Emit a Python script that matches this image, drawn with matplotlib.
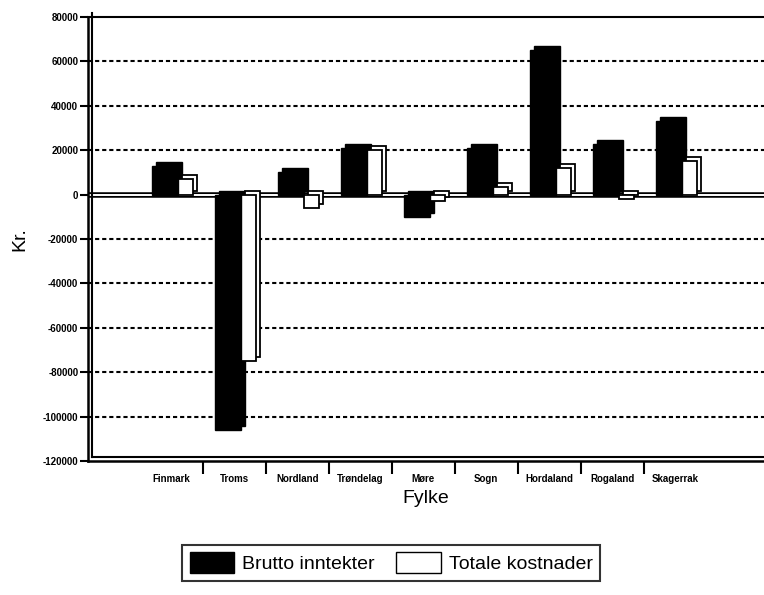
import numpy as np
import matplotlib
matplotlib.use("Agg")
import matplotlib.pyplot as plt
from matplotlib import transforms
from matplotlib.patches import Patch

categories = ["Finmark", "Troms", "Nordland", "Trøndelag", "Møre", "Sogn",
              "Hordaland", "Rogaland", "Skagerrak"]
brutto = [13000, -106000, 10000, 21000, -10000, 21000, 65000, 23000, 33000]
totale = [7000, -75000, -6000, 20000, -3000, 3500, 12000, -2000, 15000]
yticks = [80000, 60000, 40000, 20000, 0, -20000, -40000, -60000, -80000, -100000, -120000]

plt.rcParams['font.family'] = ['Liberation Sans', 'DejaVu Sans']

fig = plt.figure(figsize=(7.64, 5.95), dpi=100)
ax = fig.add_axes([88/764, 1-461/595, 1-88/764, (461-17)/595])

x = np.arange(len(categories))
wb, ww = 0.41, 0.24
xb = x - 0.30
xw = xb + wb

depth = transforms.offset_copy(ax.transData, fig=fig, x=4, y=4, units='dots')

# grid
for yv in yticks:
    if yv not in (0, 80000, -120000):
        ax.axhline(yv, color='black', lw=1.5, ls=(0, (2.0, 1.4)), zorder=1)
ax.axhline(0, color='black', lw=4.0, zorder=2)
ax.axhline(0, color='white', lw=1.4, zorder=2.1)

# 3D depth (behind)
ax.bar(xb, brutto, width=wb, align='edge', color='black', edgecolor='black',
       lw=1, transform=depth, zorder=3)
ax.bar(xw, totale, width=ww, align='edge', color='white', edgecolor='black',
       lw=1.3, transform=depth, zorder=3)
# front faces
ax.bar(xw, totale, width=ww, align='edge', color='white', edgecolor='black',
       lw=1.3, zorder=4)
ax.bar(xb, brutto, width=wb, align='edge', color='black', edgecolor='black',
       lw=1, zorder=5)

ax.set_xlim(-1.32, 9.41)
ax.set_ylim(-120000, 80000)

ax.set_yticks(yticks)
ax.set_yticklabels([str(v) for v in yticks], fontsize=7, fontweight='bold')
ax.tick_params(axis='y', length=6, width=1.5, direction='out', pad=1)

ax.set_xticks(x)
ax.set_xticklabels(categories, fontsize=7, fontweight='bold')
ax.tick_params(axis='x', which='major', length=0, pad=9)
ax.set_xticks(x[:-1] + 0.5, minor=True)
ax.tick_params(axis='x', which='minor', length=9, width=1.5, direction='out')

ax.spines['right'].set_visible(False)
ax.spines['top'].set_linewidth(1.5)
ax.spines['left'].set_linewidth(1.8)
ax.spines['bottom'].set_linewidth(1.8)

# double frame lines
inner = transforms.offset_copy(ax.transAxes, fig=fig, x=4, y=4, units='dots')
ax.plot([0, 0], [0, 1], color='black', lw=1.5, transform=inner, clip_on=False, zorder=6)
ax.plot([0, 1], [0, 0], color='black', lw=1.5, transform=inner, clip_on=False, zorder=6)

ax.set_xlabel("Fylke", fontsize=14, labelpad=5)
ax.set_ylabel("Kr.", fontsize=14, labelpad=10)

handles = [Patch(facecolor='black', edgecolor='black', label='Brutto inntekter'),
           Patch(facecolor='white', edgecolor='black', label='Totale kostnader')]
leg = fig.legend(handles=handles, loc='center', bbox_to_anchor=(0.512, 0.054),
                 ncol=2, fontsize=14, frameon=True, fancybox=False,
                 handlelength=2.3, handleheight=1.25, columnspacing=1.1,
                 handletextpad=0.4, borderpad=0.4, borderaxespad=0,
                 edgecolor='black')
leg.get_frame().set_linewidth(1.5)

fig.savefig("out.png", dpi=100)
